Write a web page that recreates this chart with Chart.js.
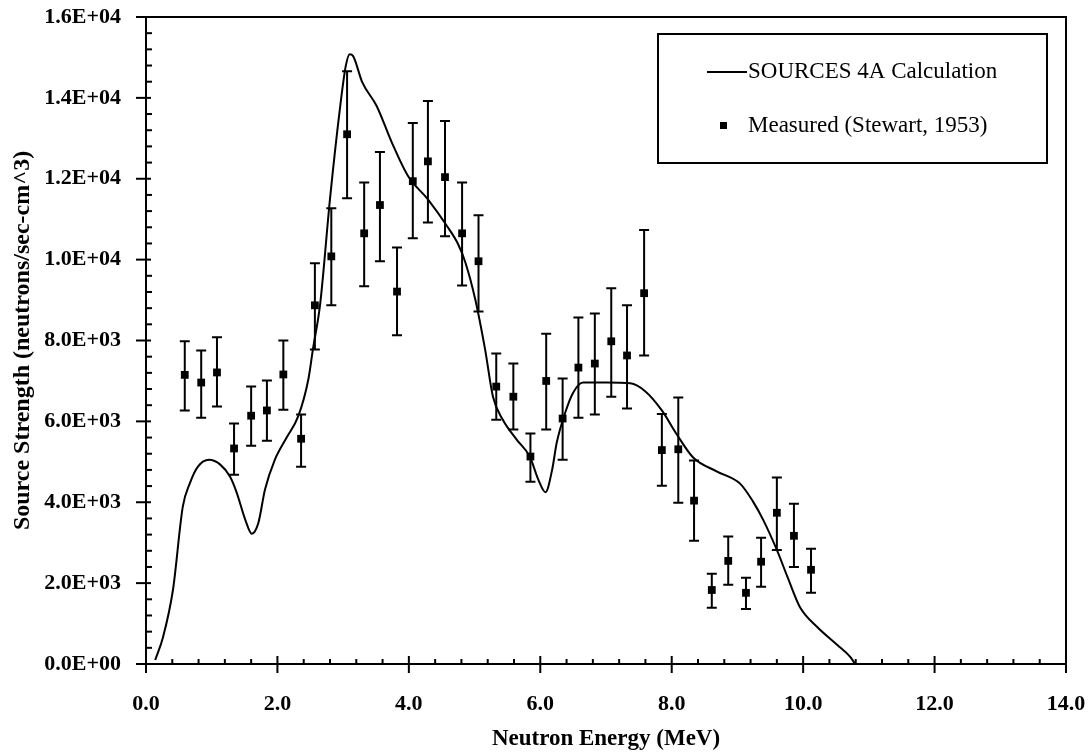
<!DOCTYPE html>
<html>
<head>
<meta charset="utf-8">
<script src="https://cdn.jsdelivr.net/npm/chart.js@4.4.0/dist/chart.umd.min.js"></script>
<style>
  html, body { margin: 0; padding: 0; background: #fff; }
  #wrap { width: 1088px; height: 753px; }
</style>
</head>
<body>
<div id="wrap"><canvas id="spectrum"></canvas></div>
<script>
// SOURCES 4A calculated spectrum (MeV, neutrons/sec-cm^3)
const calcEnergy = [0.14, 0.26, 0.41, 0.56, 0.67, 0.79, 0.96, 1.13, 1.28, 1.38, 1.51, 1.61, 1.71, 1.81, 1.96,
  2.14, 2.32, 2.47, 2.54, 2.65, 2.80, 2.95, 3.04, 3.10, 3.15, 3.29, 3.51, 3.74, 3.99, 4.29, 4.58, 4.75, 4.86,
  5.01, 5.16, 5.28, 5.43, 5.64, 5.84, 5.97, 6.08, 6.18, 6.25, 6.38, 6.50, 6.65, 7.01, 7.37, 7.60, 7.85, 8.08,
  8.33, 8.69, 9.04, 9.24, 9.39, 9.60, 9.76, 9.95, 10.21, 10.52, 10.72, 10.79];
const calcStrength = [100, 670, 1830, 3890, 4480, 4880, 5050, 4930, 4630, 4240, 3570, 3220, 3490, 4310, 5050,
  5600, 6140, 7035, 7780, 8900, 11500, 13720, 14790, 15080, 15040, 14390, 13800, 12900, 12060, 11490, 10830, 10380, 9930,
  9020, 7780, 6610, 6040, 5550, 5130, 4560, 4250, 4800, 5470, 6220, 6710, 6960, 6960, 6940, 6740, 6270, 5670,
  5100, 4760, 4460, 4010, 3570, 2820, 2160, 1410, 920, 470, 170, 0];

// Stewart (1953) measurements with error bar limits
const measEnergy = [0.59, 0.84, 1.08, 1.34, 1.60, 1.84, 2.09, 2.36, 2.57, 2.82, 3.06, 3.32, 3.56, 3.82, 4.06,
  4.29, 4.55, 4.81, 5.06, 5.33, 5.59, 5.85, 6.09, 6.34, 6.58, 6.83, 7.08, 7.32, 7.58, 7.85, 8.10, 8.34, 8.61,
  8.86, 9.13, 9.36, 9.60, 9.86, 10.12];
const measStrength = [7150, 6960, 7210, 5330, 6140, 6270, 7160, 5570, 8870, 10080, 13100, 10650, 11350, 9210, 11940,
  12430, 12040, 10650, 9960, 6860, 6610, 5130, 7000, 6070, 7330, 7430, 7980, 7630, 9170, 5290, 5310, 4040, 1830,
  2550, 1760, 2530, 3740, 3170, 2330];
const measLow = [6270, 6090, 6370, 4680, 5400, 5520, 6290, 4880, 7780, 8870, 11520, 9340, 9960, 8130, 10530,
  10920, 10580, 9360, 8720, 6040, 5800, 4510, 5800, 5050, 6090, 6170, 6610, 6320, 7630, 4410, 3990, 3050, 1390,
  1960, 1360, 1910, 2820, 2400, 1760];
const measHigh = [7980, 7750, 8080, 5950, 6860, 7010, 8000, 6170, 9910, 11270, 14660, 11910, 12660, 10300, 13380,
  13920, 13430, 11910, 11100, 7680, 7430, 5700, 8170, 7060, 8570, 8670, 9290, 8870, 10730, 6180, 6590, 5030, 2230,
  3150, 2130, 3120, 4610, 3960, 2850];

const xTicks = [0, 2, 4, 6, 8, 10, 12, 14];
const yTicks = [0, 2000, 4000, 6000, 8000, 10000, 12000, 14000, 16000];

const serif = "'Liberation Serif', 'Times New Roman', serif";

function sciLabel(v) {
  if (v === 0) return '0.0E+00';
  const e = Math.floor(Math.log10(v) + 1e-9);
  const m = v / Math.pow(10, e);
  return m.toFixed(1) + 'E+' + String(e).padStart(2, '0');
}

// frame, minor/major tick marks, error bars and the boxed legend
const decorations = {
  id: 'decorations',
  afterDatasetsDraw(chart) {
    const ctx = chart.ctx;
    const { left, right, top, bottom } = chart.chartArea;
    const xs = chart.scales.x, ys = chart.scales.y;
    ctx.save();
    ctx.strokeStyle = '#000';
    ctx.fillStyle = '#000';

    // error bars
    ctx.lineWidth = 2;
    measEnergy.forEach((e, i) => {
      const px = xs.getPixelForValue(e);
      const lo = ys.getPixelForValue(measLow[i]);
      const hi = ys.getPixelForValue(measHigh[i]);
      ctx.beginPath();
      ctx.moveTo(px, lo); ctx.lineTo(px, hi);
      ctx.moveTo(px - 5, lo); ctx.lineTo(px + 5, lo);
      ctx.moveTo(px - 5, hi); ctx.lineTo(px + 5, hi);
      ctx.stroke();
    });

    // plot frame
    ctx.lineWidth = 2;
    ctx.strokeRect(left, top, right - left, bottom - top);

    // x ticks every 0.4 MeV, major every 2
    for (let k = 0; k <= 35; k++) {
      const px = xs.getPixelForValue(k * 0.4);
      ctx.beginPath();
      if (k % 5 === 0) { ctx.moveTo(px, bottom - 8); ctx.lineTo(px, bottom + 9); }
      else { ctx.moveTo(px, bottom - 5); ctx.lineTo(px, bottom); }
      ctx.stroke();
    }
    // y ticks every 400, major every 2000
    for (let k = 0; k <= 40; k++) {
      const py = ys.getPixelForValue(k * 400);
      ctx.beginPath();
      if (k % 5 === 0) { ctx.moveTo(left - 10, py); ctx.lineTo(left + 5, py); }
      else { ctx.moveTo(left, py); ctx.lineTo(left + 6, py); }
      ctx.stroke();
    }

    // legend box
    const bx = right - 408, by = top + 17, bw = 389, bh = 129;
    ctx.lineWidth = 2;
    ctx.strokeRect(bx, by, bw, bh);
    ctx.font = '23px ' + serif;
    ctx.textBaseline = 'middle';
    ctx.textAlign = 'left';
    const ds = chart.data.datasets;
    const y1 = by + 38, y2 = by + 92;
    ctx.beginPath();
    ctx.moveTo(bx + 49, y1); ctx.lineTo(bx + 89, y1);
    ctx.stroke();
    ctx.fillText(ds[0].label, bx + 90, y1);
    ctx.fillRect(bx + 62, y2 - 4, 7, 7);
    ctx.fillText(ds[1].label, bx + 90, y2);
    ctx.restore();
  }
};

new Chart(document.getElementById('spectrum'), {
  type: 'scatter',
  data: {
    datasets: [
      {
        label: 'SOURCES 4A Calculation',
        data: calcEnergy.map((e, i) => ({ x: e, y: calcStrength[i] })),
        showLine: true,
        borderColor: '#000',
        borderWidth: 2,
        pointRadius: 0,
        cubicInterpolationMode: 'monotone',
      },
      {
        label: 'Measured (Stewart, 1953)',
        data: measEnergy.map((e, i) => ({ x: e, y: measStrength[i] })),
        pointStyle: 'rect',
        pointRadius: 5.5,
        backgroundColor: '#000',
        borderWidth: 0,
      },
    ],
  },
  options: {
    responsive: true,
    maintainAspectRatio: false,
    animation: false,
    layout: { padding: { left: 0, right: 22, top: 17, bottom: 0 } },
    plugins: { legend: { display: false }, tooltip: { enabled: false } },
    scales: {
      x: {
        type: 'linear',
        min: 0, max: 14,
        afterBuildTicks(scale) { scale.ticks = xTicks.map(v => ({ value: v })); },
        afterFit(scale) {
          scale.height = 89;
          scale.paddingLeft = 0;
          scale.paddingRight = 0;
        },
        grid: { display: true, drawOnChartArea: false, drawTicks: false },
        border: { display: false },
        ticks: {
          padding: 27,
          color: '#000',
          font: { family: serif, size: 22, weight: 'bold' },
          callback: v => Number(v).toFixed(1),
        },
        title: {
          display: true,
          text: 'Neutron Energy (MeV)',
          color: '#000',
          padding: { top: 2, bottom: 0 },
          font: { family: serif, size: 23, weight: 'bold' },
        },
      },
      y: {
        type: 'linear',
        min: 0, max: 16000,
        afterBuildTicks(scale) { scale.ticks = yTicks.map(v => ({ value: v })); },
        afterFit(scale) {
          scale.width = 146;
          scale.paddingTop = 0;
          scale.paddingBottom = 0;
        },
        grid: { display: true, drawOnChartArea: false, drawTicks: false },
        border: { display: false },
        ticks: {
          padding: 25,
          color: '#000',
          font: { family: serif, size: 22, weight: 'bold' },
          callback: v => sciLabel(v),
        },
        title: {
          display: true,
          text: 'Source Strength (neutrons/sec-cm^3)',
          color: '#000',
          padding: { top: 8, bottom: 0 },
          font: { family: serif, size: 24, weight: 'bold' },
        },
      },
    },
  },
  plugins: [decorations],
});
</script>
</body>
</html>
